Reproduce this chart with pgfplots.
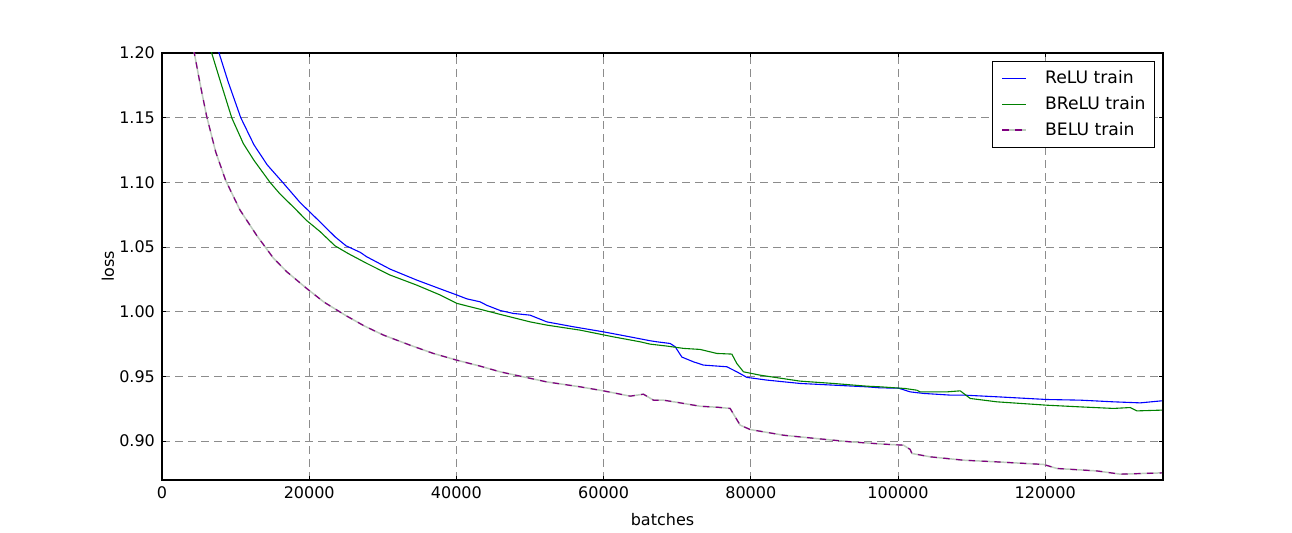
\documentclass[border=0pt]{standalone}
\usepackage{fontspec}
\setmainfont{DejaVu Sans}
\usepackage{pgfplots}
\usepackage{pgfplotstable}
\pgfplotsset{compat=1.18}
\definecolor{beluunder}{RGB}{188,204,188}
\definecolor{mplgreen}{RGB}{0,128,0}
\definecolor{mplpurple}{RGB}{128,0,128}
\definecolor{mplblue}{RGB}{0,0,255}
\pgfplotsset{
  plainlegend/.style={legend image code/.code={\draw[##1] (0pt,0pt) -- (12pt,0pt);}},
  belulegend/.style={legend image code/.code={\draw[beluunder,line width=0.75pt,solid] (0pt,0pt) -- (12pt,0pt);
      \draw[##1] (0pt,0pt) -- (12pt,0pt);}},
}
\pgfplotstableread{
x y
3700 1.222
4390 1.200
5200 1.1755
6070 1.151
7300 1.1235
8650 1.1015
10600 1.0786
12870 1.059
15130 1.0415
16940 1.031
19660 1.018
22000 1.0075
25000 0.997
27500 0.989
30080 0.982
33700 0.9742
36870 0.9678
40050 0.9626
43220 0.958
45940 0.9536
49100 0.9497
52280 0.9458
56810 0.942
59980 0.9389
63600 0.9348
65410 0.9363
66770 0.9317
68130 0.9317
70400 0.9296
73110 0.927
75500 0.9262
77190 0.9253
77870 0.9188
78550 0.9124
79910 0.909
84430 0.9046
88970 0.902
93500 0.8995
98030 0.8977
100740 0.8969
101650 0.8936
101880 0.8905
104370 0.8879
108900 0.8853
113440 0.884
119770 0.882
121590 0.8789
127020 0.877
130190 0.8745
135860 0.8755
}\belutable
\begin{document}
\begin{tikzpicture}
\path[use as bounding box] (0,0) rectangle (646pt,266.5pt);
\begin{axis}[
  at={(81pt,26.5pt)}, anchor=south west,
  scale only axis, width=500.5pt, height=213.5pt,
  xmin=0, xmax=136000, ymin=0.87, ymax=1.20,
  scaled x ticks=false, scaled y ticks=false,
  xtick={0,20000,40000,60000,80000,100000,120000},
  xticklabels={0,20000,40000,60000,80000,100000,120000},
  ytick={0.90,0.95,1.00,1.05,1.10,1.15,1.20},
  yticklabels={0.90,0.95,1.00,1.05,1.10,1.15,1.20},
  tick label style={font=\fontsize{8pt}{9.6pt}\selectfont},
  label style={font=\fontsize{8pt}{9.6pt}\selectfont},
  xlabel={batches}, ylabel={loss},
  ylabel style={at={(axis description cs:-0.054,0.5)}, anchor=center},
  tick align=inside, major tick length=2.2pt,
  grid=major,
  major grid style={black!45, line width=0.5pt, dash pattern=on 4pt off 2.5pt},
  axis line style={line width=0.55pt},
  every tick/.style={black, line width=0.5pt},
  legend cell align=left,
  plainlegend,
  legend style={draw=black, line width=0.5pt, at={(0.992,0.981)}, anchor=north east,
    font=\fontsize{8.6pt}{10pt}\selectfont, inner xsep=4.5pt, inner ysep=2.5pt, row sep=0.8pt,
    nodes={inner xsep=0pt},
    /tikz/every odd column/.append style={column sep=9pt}},
]
\addplot[mplblue, line width=0.55pt] coordinates {
(6800,1.222) (7750,1.200) (9000,1.1775) (10700,1.150) (12500,1.129) (14300,1.1135)
(16400,1.100) (18750,1.0845) (20110,1.077) (22000,1.0665) (23500,1.058) (25000,1.051)
(26910,1.046) (27820,1.0425) (30980,1.033) (34610,1.0245) (38230,1.0168) (40050,1.013)
(41410,1.010) (43220,1.0077) (44130,1.005) (45940,1.001) (47750,0.9987) (50010,0.9974)
(52280,0.9922) (55900,0.9884) (59980,0.9845) (63600,0.9806) (66320,0.9776) (67230,0.9768)
(69040,0.9755) (69720,0.973) (70630,0.965) (72210,0.9613) (73570,0.9588) (76740,0.9575)
(78100,0.9536) (79460,0.9493) (82180,0.9472) (86700,0.9446) (91230,0.9433) (95760,0.942)
(97580,0.9412) (100060,0.9410) (101650,0.9381) (103460,0.9369) (107090,0.9356)
(108900,0.9356) (113440,0.9343) (120230,0.9322) (124760,0.9317) (129290,0.9304)
(132910,0.9296) (135860,0.9312)
};
\addlegendentry{ReLU train}
\addplot[mplgreen, line width=0.55pt] coordinates {
(5800,1.218) (6750,1.200) (7880,1.179) (9470,1.150) (11050,1.130) (12500,1.117)
(14680,1.100) (16040,1.091) (17840,1.081) (19660,1.0705) (21470,1.062) (23500,1.051)
(25300,1.045) (27820,1.0374) (30980,1.0284) (34610,1.0206) (37780,1.013) (40050,1.0065)
(42770,1.0026) (45940,0.998) (50010,0.9922) (52280,0.9897) (56810,0.9858) (61340,0.9806)
(64960,0.9768) (66320,0.975) (68590,0.9735) (70850,0.9717) (73110,0.9709) (75380,0.9678)
(77420,0.9673) (78100,0.960) (79000,0.9536) (81270,0.951) (86700,0.9464) (91230,0.9446)
(95760,0.9425) (97580,0.942) (100970,0.9407) (102560,0.9394) (103010,0.9381)
(106640,0.9381) (108450,0.9389) (109810,0.933) (113440,0.9304) (120230,0.9278)
(124760,0.9265) (129290,0.9253) (131550,0.926) (132460,0.9234) (135860,0.924)
};
\addlegendentry{BReLU train}
\addplot[beluunder, line width=0.75pt, forget plot] table[x=x,y=y] {\belutable};
\addplot[mplpurple, line width=0.6pt, dash pattern=on 3.2pt off 3.2pt, belulegend] table[x=x,y=y] {\belutable};
\addlegendentry{BELU train}
\end{axis}
\end{tikzpicture}
\end{document}
